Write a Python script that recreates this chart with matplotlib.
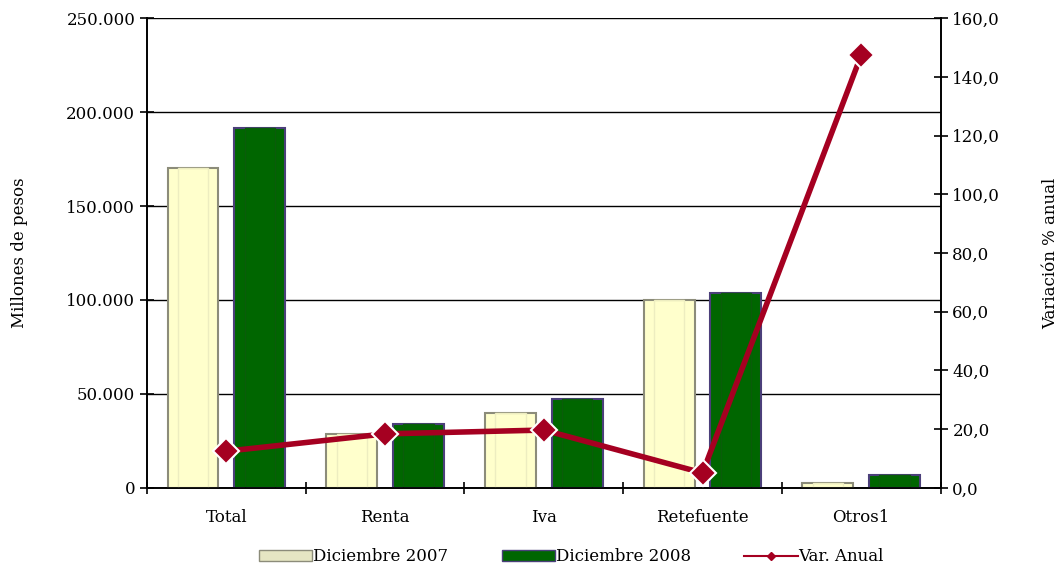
import numpy as np
import matplotlib.pyplot as plt
from matplotlib.ticker import FuncFormatter, FixedLocator
from matplotlib.lines import Line2D
from matplotlib.patches import Patch

plt.rcParams['font.family'] = ['DejaVu Serif']

categorias = ["Total", "Renta", "Iva", "Retefuente", "Otros1"]
dic_2007 = [170200, 28700, 39900, 100000, 2700]
dic_2008 = [191500, 34000, 47300, 103700, 6900]
var_anual = [12.5, 18.4, 19.7, 5.1, 147.4]

x = np.arange(len(categorias))
ancho = 0.32

fig = plt.figure(figsize=(10.58, 5.66), dpi=100)
ax = fig.add_axes([0.139, 0.138, 0.75, 0.83])
ax2 = ax.twinx()

# barras con un borde interior para imitar el relieve
ax.bar(x - 0.21, dic_2007, ancho, color="#FFFFCC", edgecolor="#8C8C7A", linewidth=1.5, zorder=3)
ax.bar(x + 0.21, dic_2008, ancho, color="#006600", edgecolor="#4B3F7A", linewidth=1.5, zorder=3)
ax.bar(x - 0.21, dic_2007, ancho * 0.6, color="none", edgecolor="#EDEDC0", linewidth=1.0, zorder=4)
ax.bar(x + 0.21, dic_2008, ancho * 0.6, color="none", edgecolor="#0A5C0A", linewidth=1.0, zorder=4)

ax.set_ylim(0, 250000)
ax.set_xlim(-0.5, len(categorias) - 0.5)
ax.set_yticks(np.arange(0, 250001, 50000))
ax.yaxis.set_major_formatter(FuncFormatter(lambda v, p: f"{int(v):,}".replace(",", ".")))
ax.grid(axis="y", color="black", linewidth=1, zorder=0)
ax.set_axisbelow(True)

ax.set_xticks(x)
ax.set_xticklabels(categorias, fontsize=12)
ax.tick_params(axis="x", length=0, pad=15)
ax.xaxis.set_minor_locator(FixedLocator(np.arange(-0.5, len(categorias), 1)))
ax.tick_params(axis="x", which="minor", length=8, direction="inout", width=1.2)
ax.tick_params(axis="y", labelsize=12, direction="inout", length=10, width=1.2)
ax.set_ylabel("Millones de pesos", fontsize=12)
ax.yaxis.set_label_coords(-0.15, 0.5)

ax2.plot(x, var_anual, color="#A50021", linewidth=4, marker="D", markersize=13,
         markerfacecolor="#A50021", markeredgecolor="white", markeredgewidth=1.5, zorder=5)
ax2.set_ylim(0, 160)
ax2.set_yticks(np.arange(0, 161, 20))
ax2.yaxis.set_major_formatter(FuncFormatter(lambda v, p: f"{v:.1f}".replace(".", ",")))
ax2.tick_params(axis="y", labelsize=12, direction="inout", length=10, width=1.2)
ax2.set_ylabel("Variación % anual", fontsize=12)
ax2.yaxis.set_label_coords(1.128, 0.5)

for a in (ax, ax2):
    for s in a.spines.values():
        s.set_linewidth(1.2)
    a.spines["top"].set_visible(False)

handles = [
    Patch(facecolor="#E6E6C3", edgecolor="#8C8C7A", label="Diciembre 2007"),
    Patch(facecolor="#006600", edgecolor="#4B3F7A", label="Diciembre 2008"),
    Line2D([0], [0], color="#A50021", linewidth=1.5, marker="D", markersize=4, label="Var. Anual"),
]
fig.legend(handles=handles, loc="lower center", bbox_to_anchor=(0.54, -0.025), ncol=3,
           frameon=False, fontsize=12, handlelength=3.2, handleheight=0.6,
           handletextpad=0.05, columnspacing=3.2)

fig.savefig("out.png", dpi=100)
